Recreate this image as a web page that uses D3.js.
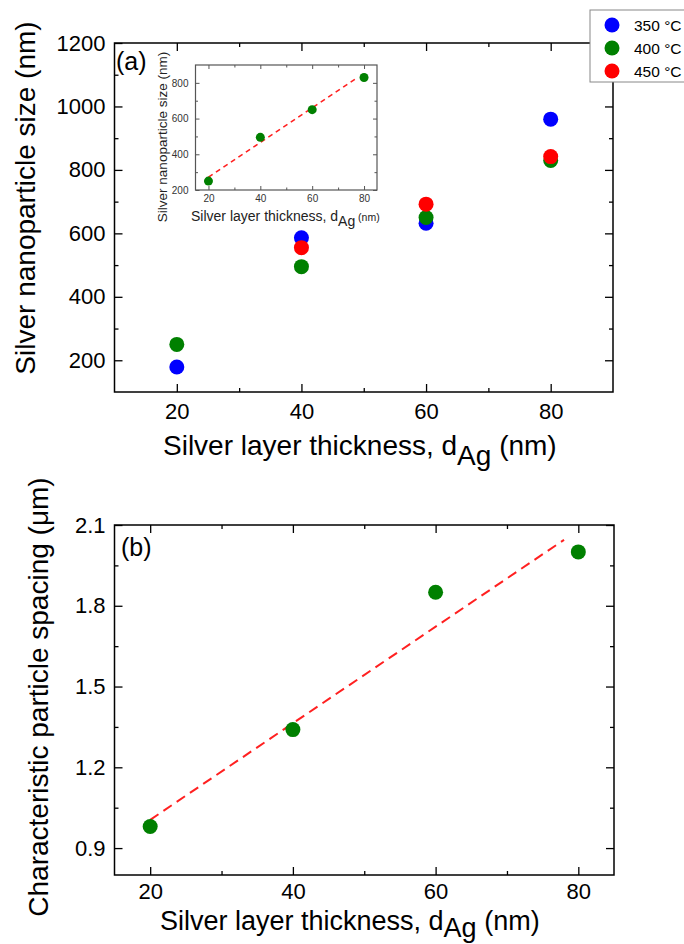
<!DOCTYPE html>
<html><head><meta charset="utf-8">
<script src="https://cdn.jsdelivr.net/npm/d3@7"></script>
<style>
html,body{margin:0;padding:0;background:#fff;}
svg{display:block;font-family:"Liberation Sans",Arial,sans-serif;}
</style></head>
<body>
<svg id="chart" width="684" height="944"></svg>
<script>
// ---------- data ----------
const thickness = [20, 40, 60, 80];
const size350 = [179, 586, 632, 960];
const size400 = [250, 495, 650, 830];
const size450 = [null, 555, 692, 842];
const spacing = [0.98, 1.34, 1.85, 2.0];
const fitInsetX = [20, 77];
const fitInsetY = [272, 825];
const fitBX = [20, 78];
const fitBY = [1.005, 2.045];
const legendLabels = ["350 °C", "400 °C", "450 °C"];
const aXTicks = [20, 40, 60, 80];
const aXMinor = [30, 50, 70];
const aYTicks = [200, 400, 600, 800, 1000, 1200];
const aYMinor = [300, 500, 700, 900, 1100];
const insetYTicks = [200, 400, 600, 800];
const insetYMinor = [300, 500, 700];
const bYTicks = [0.9, 1.2, 1.5, 1.8, 2.1];
const bYMinor = [1.05, 1.35, 1.65, 1.95];

const colors = ["#0000ff", "#008000", "#ff0000"];
const svg = d3.select("#chart");

function frame(g, x, y, o) {
  const [x0, x1] = x.range(), [y0, y1] = y.range();
  const mk = (axis, tr) => {
    const a = g.append("g").attr("transform", tr).call(axis);
    a.select(".domain").remove();
    a.selectAll("line").attr("stroke", o.stroke).attr("stroke-width", o.tw);
    a.selectAll("text").attr("font-size", o.fs).attr("fill", o.textFill)
      .attr("font-family", '"Liberation Sans",Arial,sans-serif');
    return a;
  };
  mk(d3.axisBottom(x).tickValues(o.xMajor).tickSize(-o.maj).tickPadding(o.xpad).tickFormat(o.xfmt), `translate(0,${y0})`);
  mk(d3.axisBottom(x).tickValues(o.xMinor).tickSize(-o.min).tickFormat(""), `translate(0,${y0})`);
  mk(d3.axisTop(x).tickValues(o.xMajor).tickSize(-o.maj).tickFormat(""), `translate(0,${y1})`);
  mk(d3.axisTop(x).tickValues(o.xMinor).tickSize(-o.min).tickFormat(""), `translate(0,${y1})`);
  mk(d3.axisLeft(y).tickValues(o.yMajor).tickSize(-o.maj).tickPadding(o.ypad).tickFormat(o.yfmt), `translate(${x0},0)`);
  mk(d3.axisLeft(y).tickValues(o.yMinor).tickSize(-o.min).tickFormat(""), `translate(${x0},0)`);
  mk(d3.axisRight(y).tickValues(o.yMajor).tickSize(-o.maj).tickFormat(""), `translate(${x1},0)`);
  mk(d3.axisRight(y).tickValues(o.yMinor).tickSize(-o.min).tickFormat(""), `translate(${x1},0)`);
  g.append("rect").attr("x", x0).attr("y", y1).attr("width", x1 - x0).attr("height", y0 - y1)
    .attr("fill", "none").attr("stroke", o.stroke).attr("stroke-width", o.fw);
}

function xTitle(g, x, yb, fs, subDy, nmScale) {
  const t = g.append("text").attr("x", x).attr("y", yb).attr("font-size", fs).attr("fill", "#000");
  t.append("tspan").text("Silver layer thickness, d");
  t.append("tspan").attr("dy", subDy).text("Ag");
  t.append("tspan").attr("dy", -subDy).attr("font-size", fs * nmScale).text(" (nm)");
  return t;
}

// ---------- panel (a) ----------
const ax = d3.scaleLinear().domain([10, 90]).range([114.5, 613]);
const ay = d3.scaleLinear().domain([100, 1200]).range([392, 43]);
const ga = svg.append("g");
frame(ga, ax, ay, {stroke:"#000", tw:1.3, fw:1.5, maj:8, min:4, fs:22, textFill:"#000",
  xMajor:aXTicks, xMinor:aXMinor, yMajor:aYTicks, yMinor:aYMinor,
  xpad:11, ypad:9, xfmt:d3.format("d"), yfmt:d3.format("d")});

const seriesA = [size350, size400, size450];
seriesA.forEach((s, i) => {
  ga.append("g").selectAll("circle")
    .data(thickness.map((t, j) => [t, s[j]]).filter(d => d[1] != null))
    .join("circle").attr("cx", d => ax(d[0])).attr("cy", d => ay(d[1]))
    .attr("r", 7.5).attr("fill", colors[i]);
});
ga.append("text").attr("x", 116).attr("y", 70).attr("font-size", 25).text("(a)");
ga.append("text").attr("transform", "translate(35,198) rotate(-90)").attr("text-anchor", "middle")
  .attr("font-size", 28).text("Silver nanoparticle size (nm)");
xTitle(ga, 163, 455, 28, 10, 1);

// ---------- inset ----------
const ix = d3.scaleLinear().domain([15, 85]).range([195.5, 377]);
const iy = d3.scaleLinear().domain([200, 900]).range([190, 65]);
const gi = svg.append("g");
frame(gi, ix, iy, {stroke:"#555", tw:1, fw:1.2, maj:4, min:2.5, fs:10, textFill:"#333",
  xMajor:aXTicks, xMinor:aXMinor, yMajor:insetYTicks, yMinor:insetYMinor,
  xpad:4.5, ypad:7, xfmt:d3.format("d"), yfmt:d3.format("d")});
gi.append("path").datum(fitInsetX.map((d, i) => [d, fitInsetY[i]]))
  .attr("d", d3.line().x(d => ix(d[0])).y(d => iy(d[1])))
  .attr("stroke", "#ff2020").attr("stroke-width", 1.6).attr("stroke-dasharray", "5,4").attr("fill", "none");
gi.selectAll("circle.in").data(thickness.map((t, j) => [t, size400[j]])).join("circle")
  .attr("cx", d => ix(d[0])).attr("cy", d => iy(d[1])).attr("r", 4.5).attr("fill", colors[1]);
gi.append("text").attr("transform", "translate(167,137) rotate(-90)").attr("text-anchor", "middle")
  .attr("font-size", 13.5).attr("fill", "#222").text("Silver nanoparticle size (nm)");
xTitle(gi, 191, 221, 14, 5, 0.75).attr("fill", "#222");

// ---------- legend ----------
const gl = svg.append("g");
gl.append("rect").attr("x", 590).attr("y", 10).attr("width", 120).attr("height", 72)
  .attr("fill", "#fff").attr("stroke", "#888").attr("stroke-width", 1);
const legY = d3.scalePoint().domain(legendLabels).range([25, 71]);
legendLabels.forEach((l, i) => {
  gl.append("circle").attr("cx", 612).attr("cy", legY(l)).attr("r", 7.5).attr("fill", colors[i]);
  gl.append("text").attr("x", 634).attr("y", legY(l) + 5.5).attr("font-size", 15.5).text(l);
});

// ---------- panel (b) ----------
const bx = d3.scaleLinear().domain([15, 85]).range([114.5, 614]);
const by = d3.scaleLinear().domain([0.8, 2.1]).range([875, 525]);
const gb = svg.append("g");
frame(gb, bx, by, {stroke:"#000", tw:1.3, fw:1.5, maj:8, min:4, fs:22, textFill:"#000",
  xMajor:aXTicks, xMinor:aXMinor, yMajor:bYTicks, yMinor:bYMinor,
  xpad:8, ypad:9, xfmt:d3.format("d"), yfmt:d3.format(".1f")});
gb.append("path").datum(fitBX.map((d, i) => [d, fitBY[i]]))
  .attr("d", d3.line().x(d => bx(d[0])).y(d => by(d[1])))
  .attr("stroke", "#ff2020").attr("stroke-width", 2).attr("stroke-dasharray", "10,6").attr("fill", "none");
gb.selectAll("circle.b").data(thickness.map((t, j) => [t, spacing[j]])).join("circle")
  .attr("cx", d => bx(d[0])).attr("cy", d => by(d[1])).attr("r", 7.5).attr("fill", colors[1]);
gb.append("text").attr("x", 121).attr("y", 556).attr("font-size", 25).text("(b)");
gb.append("text").attr("transform", "translate(48,697) rotate(-90)").attr("text-anchor", "middle")
  .attr("font-size", 28).text("Characteristic particle spacing (μm)");
xTitle(gb, 160, 930, 27, 7, 1);
</script>
</body></html>
